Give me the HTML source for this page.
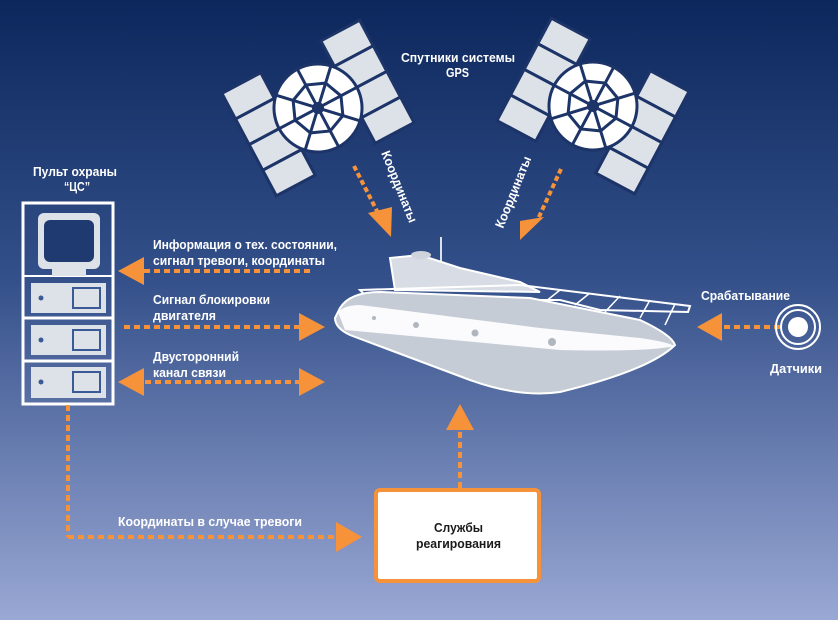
<!DOCTYPE html>
<html><head><meta charset="utf-8"><style>
html,body{margin:0;padding:0;width:838px;height:620px;overflow:hidden}
svg{display:block}
text{font-family:"Liberation Sans","Noto Sans CJK SC",sans-serif;font-weight:bold;fill:#fff;font-size:13px}
</style></head><body>
<svg width="838" height="620" viewBox="0 0 838 620" xmlns="http://www.w3.org/2000/svg">
<defs>
<linearGradient id="bg" x1="0" y1="0" x2="0" y2="1">
<stop offset="0" stop-color="#0c275c"/>
<stop offset="0.45" stop-color="#34508a"/>
<stop offset="1" stop-color="#9aa8d4"/>
</linearGradient>
<g id="sat">
<g fill="#dde1e8" stroke="#1c3468" stroke-width="3">
<rect x="-78" y="-58" width="44" height="29"/><rect x="-78" y="-29" width="44" height="29"/><rect x="-78" y="0" width="44" height="29"/><rect x="-78" y="29" width="44" height="29"/>
<rect x="34" y="-58" width="44" height="29"/><rect x="34" y="-29" width="44" height="29"/><rect x="34" y="0" width="44" height="29"/><rect x="34" y="29" width="44" height="29"/>
</g>
<circle r="44" fill="#fff" stroke="#1c3468" stroke-width="3"/>
<polygon points="26,0 18.4,18.4 0,26 -18.4,18.4 -26,0 -18.4,-18.4 0,-26 18.4,-18.4" fill="none" stroke="#1c3468" stroke-width="3"/>
<g stroke="#1c3468" stroke-width="3">
<line x1="-44" y1="0" x2="44" y2="0"/><line x1="0" y1="-44" x2="0" y2="44"/>
<line x1="-31" y1="-31" x2="31" y2="31"/><line x1="-31" y1="31" x2="31" y2="-31"/>
</g>
<circle r="6" fill="#1c3468"/>
</g>
</defs>
<rect width="838" height="620" fill="url(#bg)"/>

<use href="#sat" transform="translate(318,108) rotate(-28)"/>
<use href="#sat" transform="translate(593,106) rotate(28)"/>
<text x="401" y="62" textLength="114" lengthAdjust="spacingAndGlyphs">Спутники системы</text>
<text x="446" y="77" textLength="23" lengthAdjust="spacingAndGlyphs">GPS</text>

<g stroke="#f6923a" stroke-width="4" stroke-dasharray="5,3" fill="none">
<line x1="354" y1="166" x2="378" y2="213"/>
<line x1="561" y1="169" x2="538" y2="219"/>
</g>
<polygon points="368,213 392,207 391,237" fill="#f6923a"/>
<polygon points="520,221 544,217 520,240" fill="#f6923a"/>
<text transform="translate(381,153) rotate(68)" textLength="76" lengthAdjust="spacingAndGlyphs">Координаты</text>
<text transform="translate(503,229) rotate(-68)" textLength="76" lengthAdjust="spacingAndGlyphs">Координаты</text>

<rect x="23" y="203" width="90" height="201" fill="none" stroke="#fff" stroke-width="3"/>
<line x1="23" y1="276" x2="113" y2="276" stroke="#fff" stroke-width="2"/>
<line x1="23" y1="318" x2="113" y2="318" stroke="#fff" stroke-width="3"/>
<line x1="23" y1="361" x2="113" y2="361" stroke="#fff" stroke-width="3"/>
<rect x="38" y="213" width="62" height="56" rx="6" fill="#dde1e8"/>
<rect x="44" y="220" width="50" height="42" rx="6" fill="#1f3a70"/>
<rect x="52" y="262" width="34" height="14" fill="#dde1e8"/>
<g fill="#dde1e8"><rect x="31" y="283" width="75" height="30"/><rect x="31" y="325" width="75" height="30"/><rect x="31" y="367" width="75" height="31"/></g>
<g fill="none" stroke="#3a5a95" stroke-width="2"><rect x="73" y="288" width="27" height="20"/><rect x="73" y="330" width="27" height="20"/><rect x="73" y="372" width="27" height="20"/></g>
<g fill="#3a5a95"><circle cx="41" cy="298" r="2.5"/><circle cx="41" cy="340" r="2.5"/><circle cx="41" cy="382" r="2.5"/></g>
<text x="33" y="176" textLength="84" lengthAdjust="spacingAndGlyphs">Пульт охраны</text>
<text x="64" y="191" textLength="26" lengthAdjust="spacingAndGlyphs">“ЦС”</text>

<g stroke="#f6923a" stroke-width="4" stroke-dasharray="6,4" fill="none">
<line x1="310" y1="271" x2="140" y2="271"/>
<line x1="124" y1="327" x2="300" y2="327"/>
<line x1="145" y1="382" x2="300" y2="382"/>
<line x1="68" y1="405" x2="68" y2="537"/>
<line x1="68" y1="537" x2="340" y2="537"/>
<line x1="460" y1="488" x2="460" y2="425"/>
<line x1="780" y1="327" x2="720" y2="327"/>
</g>
<g fill="#f6923a">
<polygon points="118,271 144,257 144,285"/>
<polygon points="325,327 299,313 299,341"/>
<polygon points="118,382 144,368 144,396"/>
<polygon points="325,382 299,368 299,396"/>
<polygon points="362,537 336,522 336,552"/>
<polygon points="460,404 446,430 474,430"/>
<polygon points="697,327 722,313 722,341"/>
</g>
<text x="153" y="249" textLength="184" lengthAdjust="spacingAndGlyphs">Информация о тех. состоянии,</text>
<text x="153" y="265" textLength="172" lengthAdjust="spacingAndGlyphs">сигнал тревоги, координаты</text>
<text x="153" y="304" textLength="117" lengthAdjust="spacingAndGlyphs">Сигнал блокировки</text>
<text x="153" y="320" textLength="63" lengthAdjust="spacingAndGlyphs">двигателя</text>
<text x="153" y="361" textLength="86" lengthAdjust="spacingAndGlyphs">Двусторонний</text>
<text x="153" y="377" textLength="73" lengthAdjust="spacingAndGlyphs">канал связи</text>
<text x="118" y="526" textLength="184" lengthAdjust="spacingAndGlyphs">Координаты в случае тревоги</text>

<line x1="441" y1="237" x2="441" y2="265" stroke="#dde1e8" stroke-width="2"/>
<path d="M390,258 L420,255 L460,268 L520,282 L540,292 L395,290 Z" fill="#d8dce4" stroke="#fff" stroke-width="2"/>
<ellipse cx="421" cy="255" rx="10" ry="4" fill="#cfd4dc"/>
<path d="M360,290 L520,285 L690,306 L688,312 L600,310 L560,300 L370,300 Z" fill="none" stroke="#fff" stroke-width="2"/>
<g stroke="#fff" stroke-width="1.5"><line x1="560" y1="290" x2="545" y2="302"/><line x1="590" y1="293" x2="575" y2="305"/><line x1="620" y1="296" x2="605" y2="312"/><line x1="650" y1="300" x2="640" y2="318"/><line x1="675" y1="304" x2="665" y2="325"/></g>
<path d="M340,308 Q350,292 380,292 L530,298 L640,320 Q672,335 675,345 Q650,370 560,392 Q520,398 470,380 L350,335 Q335,328 335,318 Z" fill="#c6ccd6" stroke="#fff" stroke-width="2"/>
<path d="M338,312 Q345,305 360,305 L540,328 L640,338 Q668,342 674,346 Q650,352 560,350 L400,335 L345,330 Z" fill="#fbfbfd"/>
<g fill="#b0b6c0"><circle cx="416" cy="325" r="3"/><circle cx="475" cy="333" r="3.5"/><circle cx="552" cy="342" r="4"/><circle cx="374" cy="318" r="2"/></g>

<circle cx="798" cy="327" r="22" fill="none" stroke="#fff" stroke-width="2"/>
<circle cx="798" cy="327" r="17" fill="none" stroke="#fff" stroke-width="2"/>
<circle cx="798" cy="327" r="10" fill="#fff"/>
<text x="701" y="300" textLength="89" lengthAdjust="spacingAndGlyphs">Срабатывание</text>
<text x="770" y="373" textLength="52" lengthAdjust="spacingAndGlyphs">Датчики</text>

<rect x="376" y="490" width="163" height="91" rx="4" fill="#fff" stroke="#f6923a" stroke-width="4"/>
<text x="434" y="532" textLength="49" lengthAdjust="spacingAndGlyphs" style="fill:#1a1a1a">Службы</text>
<text x="416" y="548" textLength="85" lengthAdjust="spacingAndGlyphs" style="fill:#1a1a1a">реагирования</text>
</svg>
</body></html>
